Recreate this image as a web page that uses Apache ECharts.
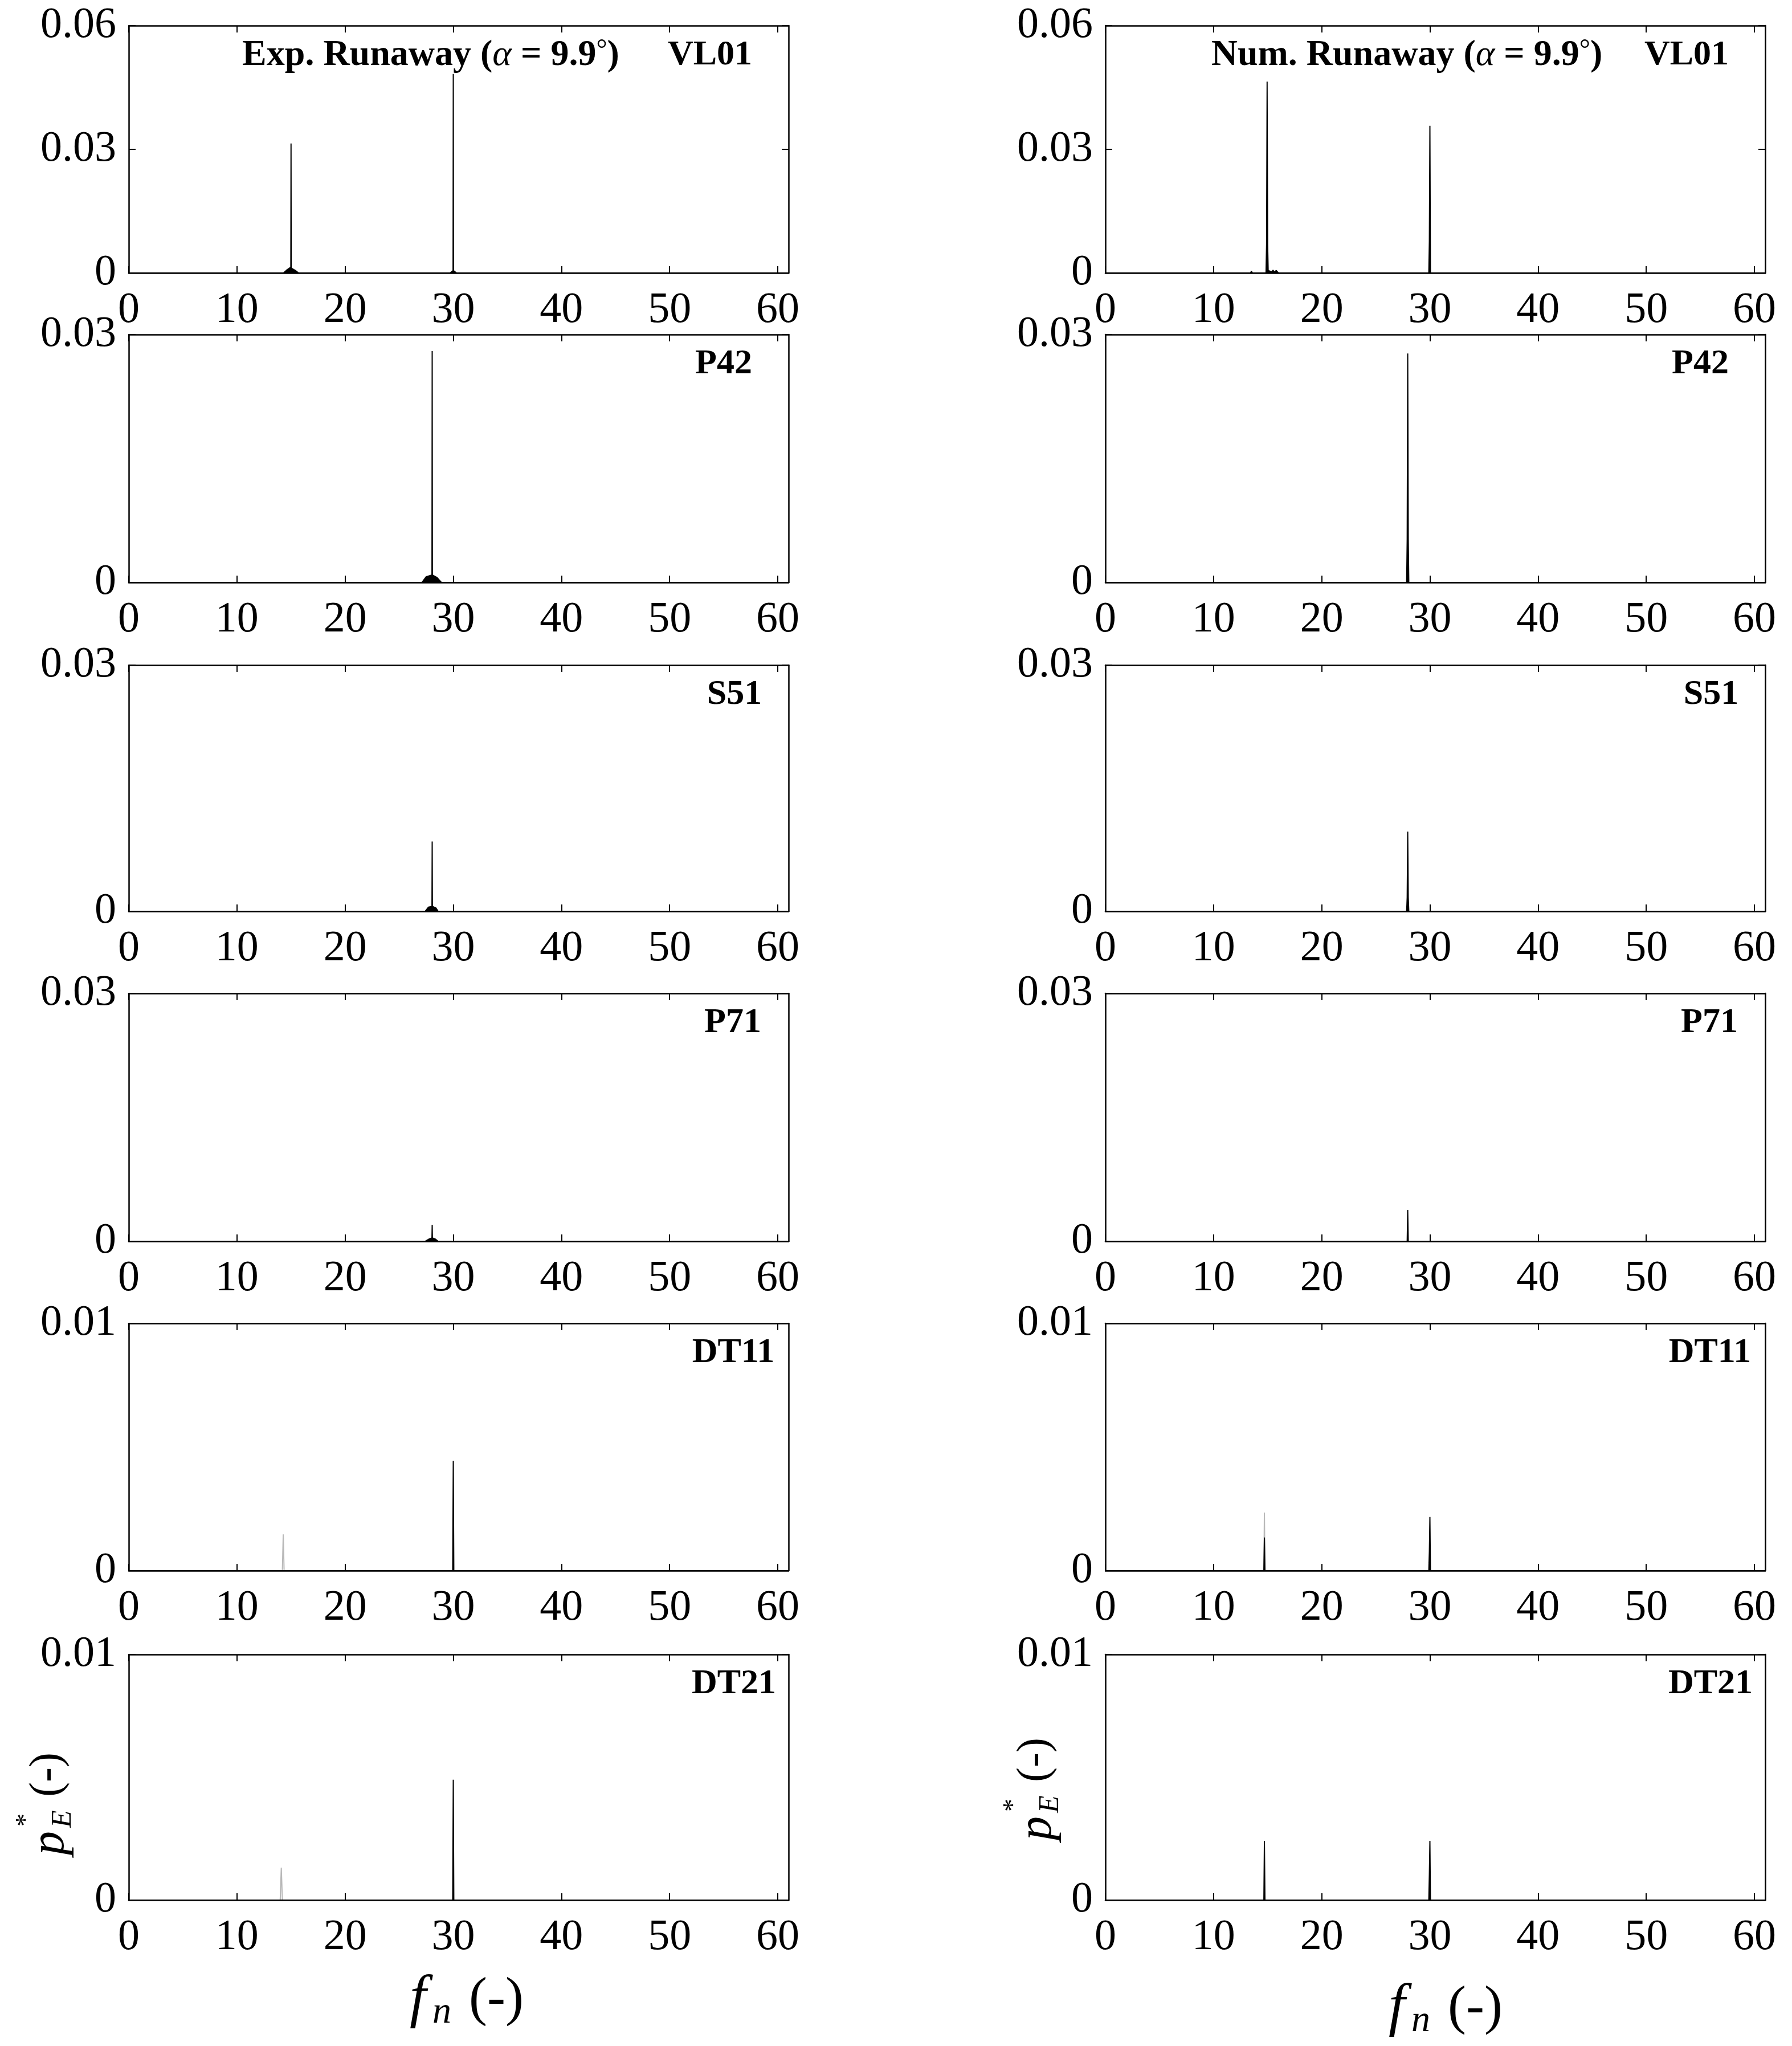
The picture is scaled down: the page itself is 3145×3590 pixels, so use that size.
<!DOCTYPE html>
<html><head><meta charset="utf-8">
<script src="https://cdn.jsdelivr.net/npm/echarts@6/dist/echarts.min.js"></script>
<style>html,body{margin:0;padding:0;background:#fff}#c{width:3145px;height:3590px}</style>
</head><body><div id="c"></div>
<script>
// ---------------- DATA ----------------
const xTicks = [0, 10, 20, 30, 40, 50, 60];
const xMin = 0, xMax = 61;
const stationNames = ['VL01', 'P42', 'S51', 'P71', 'DT11', 'DT21'];
const yMaxes = [0.06, 0.03, 0.03, 0.03, 0.01, 0.01];
const yTicksRow1 = [0, 0.03, 0.06];
const yTicks003 = [0, 0.03];
const yTicks001 = [0, 0.01];

// Row 1: VL01
const expVL01_f = [0, 14.3, 14.6, 14.98, 15.0, 15.02, 15.4, 15.7, 29.7, 29.98, 30.0, 30.02, 30.3, 61];
const expVL01_p = [0, 0, 0.0007, 0.0014, 0.0314, 0.0012, 0.0006, 0, 0, 0.0006, 0.0483, 0.0006, 0, 0];
const numVL01_f = [0, 13.4, 13.5, 13.6, 14.85, 14.9, 14.95, 15.0, 15.05, 15.4, 15.5, 15.6, 15.8, 15.9, 16.0, 29.9, 29.95, 30.0, 30.05, 61];
const numVL01_p = [0, 0, 0.0004, 0, 0, 0.0069, 0.0464, 0.0069, 0.0006, 0.0003, 0.0007, 0.0002, 0.0006, 0.0003, 0, 0, 0.0076, 0.0357, 0, 0];
// Row 2: P42
const expP42_f = [0, 27.1, 27.5, 28.03, 28.05, 28.07, 28.5, 28.9, 61];
const expP42_p = [0, 0, 0.0007, 0.0009, 0.0280, 0.0009, 0.0006, 0, 0];
const numP42_f = [0, 27.85, 27.9, 27.95, 28.0, 28.05, 61];
const numP42_p = [0, 0, 0.0052, 0.0277, 0.0052, 0, 0];
// Row 3: S51
const expS51_f = [0, 27.4, 27.7, 28.03, 28.05, 28.07, 28.4, 28.6, 61];
const expS51_p = [0, 0, 0.0005, 0.0006, 0.0085, 0.0006, 0.0004, 0, 0];
const numS51_f = [0, 27.85, 27.9, 27.95, 28.0, 28.05, 61];
const numS51_p = [0, 0, 0.0017, 0.0097, 0.0017, 0, 0];
// Row 4: P71
const expP71_f = [0, 27.4, 27.8, 28.03, 28.05, 28.07, 28.3, 28.6, 61];
const expP71_p = [0, 0, 0.0003, 0.0004, 0.0020, 0.0004, 0.0003, 0, 0];
const numP71_f = [0, 27.9, 27.95, 28.0, 61];
const numP71_p = [0, 0, 0.0038, 0, 0];
// Row 5: DT11
const expDT11_f = [0, 29.95, 30.0, 30.05, 61];
const expDT11_p = [0, 0, 0.00444, 0, 0];
const expDT11gray_f = [14.2, 14.28, 14.36];
const expDT11gray_p = [0, 0.00147, 0];
const numDT11_f = [0, 14.65, 14.7, 14.75, 29.9, 29.95, 30.0, 30.05, 61];
const numDT11_p = [0, 0, 0.00134, 0, 0, 0.00076, 0.00217, 0, 0];
const numDT11gray_f = [14.65, 14.7, 14.75];
const numDT11gray_p = [0, 0.00235, 0];
// Row 6: DT21
const expDT21_f = [0, 29.95, 30.0, 30.05, 61];
const expDT21_p = [0, 0, 0.0049, 0, 0];
const expDT21gray_f = [14.0, 14.1, 14.2];
const expDT21gray_p = [0, 0.00132, 0];
const numDT21_f = [0, 14.65, 14.7, 14.75, 29.9, 29.95, 30.0, 30.05, 61];
const numDT21_p = [0, 0, 0.00241, 0, 0, 0.00104, 0.00241, 0, 0];

// ---------------- PANELS (data refs) ----------------
const yTicksByRow = [yTicksRow1, yTicks003, yTicks003, yTicks003, yTicks001, yTicks001];
const expBlack = [[expVL01_f, expVL01_p], [expP42_f, expP42_p], [expS51_f, expS51_p], [expP71_f, expP71_p], [expDT11_f, expDT11_p], [expDT21_f, expDT21_p]];
const numBlack = [[numVL01_f, numVL01_p], [numP42_f, numP42_p], [numS51_f, numS51_p], [numP71_f, numP71_p], [numDT11_f, numDT11_p], [numDT21_f, numDT21_p]];
const expGray = [null, null, null, null, [expDT11gray_f, expDT11gray_p], [expDT21gray_f, expDT21gray_p]];
const numGray = [null, null, null, null, [numDT11gray_f, numDT11gray_p], null];

// ---------------- LAYOUT ----------------
const colLeft = [226, 1940];
const plotW = 1158;
const rowTop = [45, 587, 1167, 1743, 2322, 2903];
const rowH = [434, 435, 432, 435, 434, 431];
const nameCx = [1020, 1044, 1063, 1060, 1061, 1062];
const FONT = '"Liberation Serif", "Times New Roman", serif';
const BLACK = '#000';

const grids = [], xAxes = [], yAxes = [], series = [];
function toPts(pair) { return pair[0].map((f, k) => [f, pair[1][k]]); }

let gi = 0;
for (let c = 0; c < 2; c++) {
  for (let r = 0; r < 6; r++) {
    grids.push({ left: colLeft[c], top: rowTop[r], width: plotW, height: rowH[r], show: false });
    const lineStyle = { color: BLACK, width: 2.5 };
    const tick = { show: true, inside: true, length: 12, lineStyle: { color: BLACK, width: 2 } };
    xAxes.push({
      gridIndex: gi, type: 'value', position: 'bottom', min: xMin, max: xMax,
      axisLine: { show: true, onZero: false, lineStyle },
      axisTick: Object.assign({ customValues: xTicks }, tick),
      axisLabel: { customValues: xTicks, fontFamily: FONT, fontSize: 76, color: BLACK, margin: 28 },
      splitLine: { show: false }
    });
    xAxes.push({
      gridIndex: gi, type: 'value', position: 'top', min: xMin, max: xMax,
      axisLine: { show: true, onZero: false, lineStyle },
      axisTick: Object.assign({ customValues: xTicks }, tick),
      axisLabel: { show: false }, splitLine: { show: false }
    });
    const yt = yTicksByRow[r];
    yAxes.push({
      gridIndex: gi, type: 'value', position: 'left', min: 0, max: yMaxes[r],
      axisLine: { show: true, onZero: false, lineStyle },
      axisTick: Object.assign({ customValues: yt }, tick),
      axisLabel: { customValues: yt, fontFamily: FONT, fontSize: 76, color: BLACK, margin: 22,
        formatter: v => v === 0 ? '0' : String(+v.toFixed(4)) },
      splitLine: { show: false }
    });
    yAxes.push({
      gridIndex: gi, type: 'value', position: 'right', min: 0, max: yMaxes[r],
      axisLine: { show: true, onZero: false, lineStyle },
      axisTick: Object.assign({ customValues: yt }, tick),
      axisLabel: { show: false }, splitLine: { show: false }
    });
    const gray = c === 0 ? expGray[r] : numGray[r];
    if (gray) {
      series.push({ type: 'line', xAxisIndex: gi * 2, yAxisIndex: gi * 2, data: toPts(gray),
        symbol: 'none', lineStyle: { color: '#b8b8b8', width: 2 }, silent: true, z: 2 });
    }
    const blk = c === 0 ? expBlack[r] : numBlack[r];
    series.push({ type: 'line', xAxisIndex: gi * 2, yAxisIndex: gi * 2, data: toPts(blk),
      symbol: 'none', lineStyle: { color: BLACK, width: 2 }, areaStyle: { color: BLACK, opacity: 1 },
      silent: true, z: 3 });
    gi++;
  }
}

// ---------------- TEXT ----------------
function txt(x, y, text, font, align, rich, extra) {
  return Object.assign({ type: 'text', x, y, silent: true, z: 10,
    style: { text, font, fill: BLACK, align: align || 'center', textAlign: align || 'center',
      verticalAlign: 'middle', textVerticalAlign: 'middle', rich } }, extra || {});
}
const graphics = [];
const titleRich = {
  b: { fontFamily: FONT, fontWeight: 'bold', fontSize: 64, fill: BLACK },
  a: { fontFamily: FONT, fontStyle: 'italic', fontSize: 64, fill: BLACK },
  d: { fontFamily: FONT, fontSize: 48, fill: BLACK, verticalAlign: 'top' }
};
graphics.push(txt(colLeft[0] + 530, rowTop[0] + 52, '{b|Exp. Runaway (}{a|α}{b| = 9.9}{d|°}{b|)}', null, 'center', titleRich));
graphics.push(txt(colLeft[1] + 529, rowTop[0] + 52, '{b|Num. Runaway (}{a|α}{b| = 9.9}{d|°}{b|)}', null, 'center', titleRich));
for (let c = 0; c < 2; c++) {
  for (let r = 0; r < 6; r++) {
    graphics.push(txt(colLeft[c] + nameCx[r], rowTop[r] + 52, stationNames[r], 'bold 62px ' + FONT, 'center'));
  }
}
// y-axis label p*_E (-)
function yLabel(cx, cy) {
  return { type: 'group', x: cx, y: cy, rotation: Math.PI / 2, silent: true, children: [
    txt(-84, 4, 'p', 'italic 84px ' + FONT, 'left'),
    txt(-36, 26, 'E', 'italic 50px ' + FONT, 'left'),
    txt(-34, -38, '*', '46px ' + FONT, 'left'),
    txt(18, 0, '(-)', '78px ' + FONT, 'left')
  ]};
}
graphics.push(yLabel(85, 3171));
graphics.push(yLabel(1818, 3145));
// x-axis label f_n (-)
function xLabel(lx, cy) {
  return { type: 'group', x: lx, y: cy, silent: true, children: [
    txt(0, 0, 'f', 'italic 104px ' + FONT, 'left'),
    txt(40, 22, 'n', 'italic 66px ' + FONT, 'left'),
    txt(104, 0, '(-)', '96px ' + FONT, 'left')
  ]};
}
graphics.push(xLabel(719, 3510));
graphics.push(xLabel(2437, 3525));

const chart = echarts.init(document.getElementById('c'), null, { renderer: 'canvas' });
chart.setOption({
  animation: false, backgroundColor: '#fff',
  grid: grids, xAxis: xAxes, yAxis: yAxes, series, graphic: graphics
});
</script></body></html>
